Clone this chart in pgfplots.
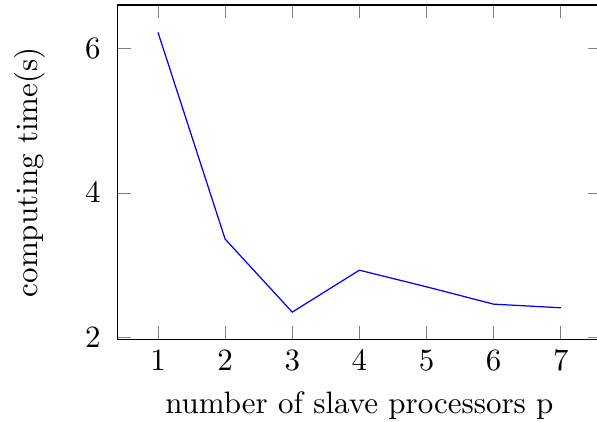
\documentclass[border=0pt]{standalone}
\usepackage{pgfplots}
\pgfplotsset{compat=1.18}
\begin{document}
\begin{tikzpicture}
\begin{axis}[
  name=ax,
  scale only axis,
  width=156pt, height=108pt,
  xmin=0.4, xmax=7.6,
  ymin=1.97, ymax=6.6,
  xtick={1,2,3,4,5,6,7},
  ytick={2,4,6},
  yticklabel style={xshift=-2pt},
  xlabel={number of slave processors p},
  ylabel={computing time(s)},
  ylabel shift=6pt,
]
\addplot[blue] coordinates {(1,6.22) (2,3.36) (3,2.35) (4,2.93) (5,2.70) (6,2.46) (7,2.41)};
\end{axis}
\pgfresetboundingbox
\path ([xshift=-38pt,yshift=-26.5pt]ax.south west) rectangle ([xshift=-1.3pt,yshift=1.6pt]ax.north east);
\end{tikzpicture}
\end{document}
